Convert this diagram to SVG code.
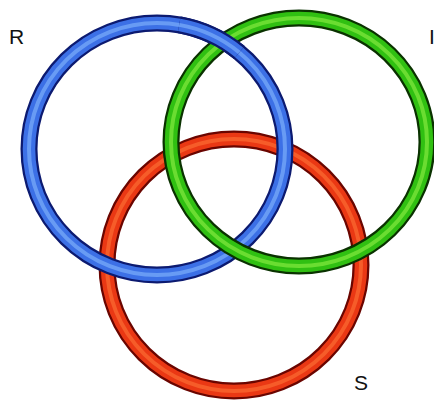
<svg xmlns="http://www.w3.org/2000/svg" width="434" height="418" viewBox="0 0 434 418">
<style>
.edge{fill:none;stroke-width:17}
.body{fill:none;stroke-width:12.5}
.hi{fill:none;stroke-width:4;opacity:0.55}
.b .edge{stroke:#0c1a70}.b .body{stroke:#3c70e6}.b .hi{stroke:#8cc0ff}
.g .edge{stroke:#0a3200}.g .body{stroke:#30c012}.g .hi{stroke:#9af44a}
.r .edge{stroke:#6a0500}.r .body{stroke:#ea3814}.r .hi{stroke:#ff7a3a}
text{font-family:"Liberation Sans","DejaVu Sans",sans-serif;font-size:21px;fill:#111}
</style>
<rect width="434" height="418" fill="#ffffff"/>
<g id="ring-S" class="r">
<ellipse class="edge" cx="234" cy="265" rx="127" ry="126"/>
<ellipse class="body" cx="234" cy="265" rx="127" ry="126"/>
<ellipse class="hi" cx="234" cy="265" rx="127" ry="126"/>
</g>
<g id="ring-R" class="b">
<ellipse class="edge" cx="157" cy="149" rx="128" ry="126"/>
<ellipse class="body" cx="157" cy="149" rx="128" ry="126"/>
<ellipse class="hi" cx="157" cy="149" rx="128" ry="126"/>
</g>
<g id="ring-I" class="g">
<ellipse class="edge" cx="299" cy="142" rx="128" ry="124"/>
<ellipse class="body" cx="299" cy="142" rx="128" ry="124"/>
<ellipse class="hi" cx="299" cy="142" rx="128" ry="124"/>
</g>
<g id="ring-R-over" class="b">
<path class="edge" d="M239.3,52.5 A128,126 0 0 0 179.2,24.9"/>
<path class="body" d="M239.3,52.5 A128,126 0 0 0 179.2,24.9"/>
<path class="hi" d="M239.3,52.5 A128,126 0 0 0 179.2,24.9"/>
</g>
<g id="labels">
<text x="9" y="44">R</text>
<text x="429" y="44">I</text>
<text x="354" y="390">S</text>
</g>
</svg>
